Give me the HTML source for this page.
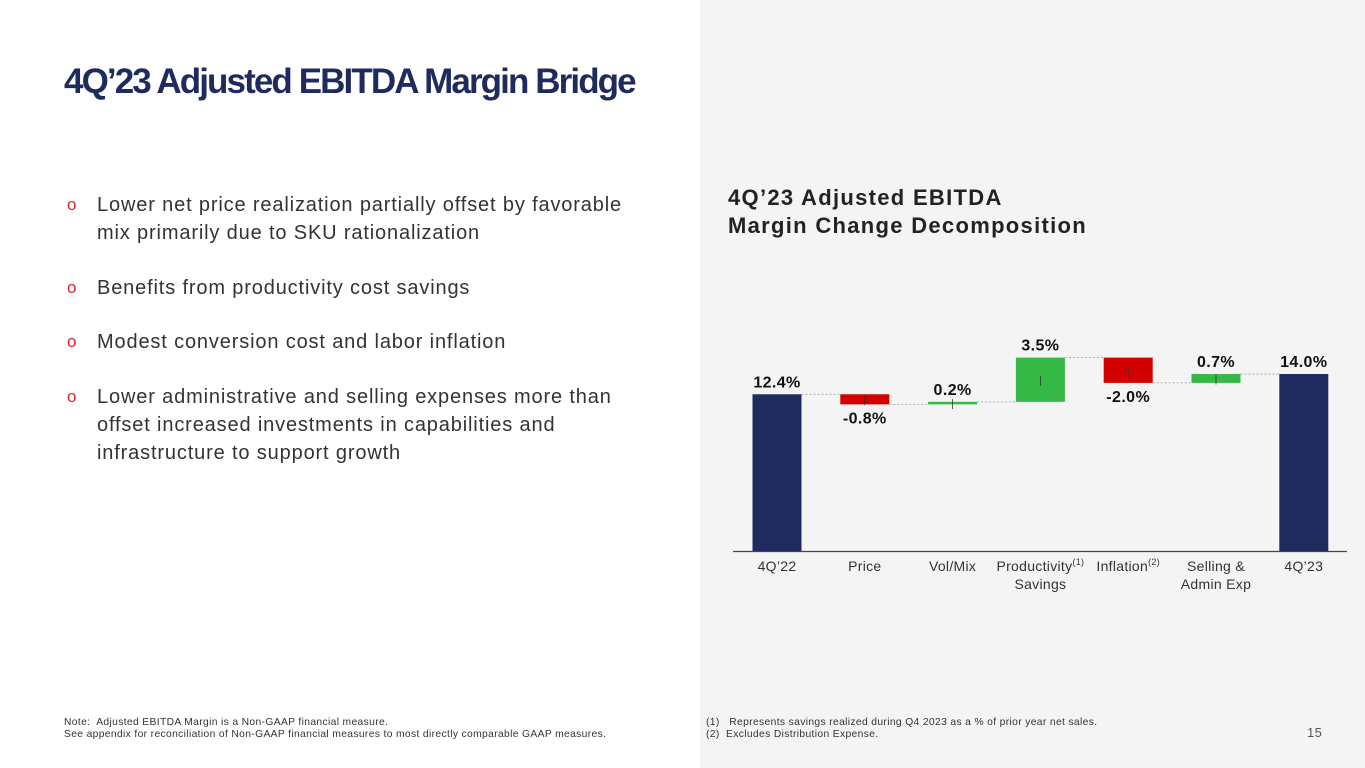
<!DOCTYPE html>
<html><head><meta charset="utf-8"><style>
body{margin:0;width:1365px;height:768px;position:relative;background:#fff;font-family:"Liberation Sans",sans-serif;overflow:hidden}
.panel{position:absolute;left:700px;top:0;width:665px;height:768px;background:#f4f4f4}
h1{position:absolute;left:64px;top:62px;margin:0;font-size:35px;font-weight:bold;color:#1f2b5e;letter-spacing:-1.9px}
.b{position:absolute;left:67px;font-size:20px;color:#333;line-height:28px;letter-spacing:0.85px}
.b span.o{position:absolute;left:0;color:#d0262f;font-size:17px}
.b div{margin-left:30px}
h2{position:absolute;left:728px;top:184px;margin:0;font-size:22px;font-weight:bold;color:#222;line-height:28px;letter-spacing:1.3px}
.note{position:absolute;font-size:10.3px;color:#333;line-height:12px;letter-spacing:0.35px}
</style></head><body>
<div class="panel"></div>
<h1>4Q’23 Adjusted EBITDA Margin Bridge</h1>
<div class="b" style="top:191px"><span class="o">o</span><div>Lower net price realization partially offset by favorable<br>mix primarily due to SKU rationalization</div></div>
<div class="b" style="top:274px"><span class="o">o</span><div>Benefits from productivity cost savings</div></div>
<div class="b" style="top:328px"><span class="o">o</span><div>Modest conversion cost and labor inflation</div></div>
<div class="b" style="top:383px"><span class="o">o</span><div>Lower administrative and selling expenses more than<br>offset increased investments in capabilities and<br>infrastructure to support growth</div></div>
<h2>4Q’23 Adjusted EBITDA<br>Margin Change Decomposition</h2>
<svg id="chart" style="position:absolute;left:0;top:0" width="1365" height="768"></svg>
<div class="note" style="left:64px;top:717px">Note:&nbsp; Adjusted EBITDA Margin is a Non-GAAP financial measure.<br>See appendix for reconciliation of Non-GAAP financial measures to most directly comparable GAAP measures.</div>
<div class="note" style="left:706px;top:717px">(1)&nbsp;&nbsp; Represents savings realized during Q4 2023 as a % of prior year net sales.<br>(2)&nbsp;&nbsp;Excludes Distribution Expense.</div>
<div class="note" style="left:1307px;top:727px;font-size:13px;color:#555">15</div>
<script>
const categories=["4Q’22","Price","Vol/Mix","Productivity|Savings","Inflation","Selling &|Admin Exp","4Q’23"];
const sups=["","","","(1)","(2)","",""];
const values=[12.4,-0.8,0.2,3.5,-2.0,0.7,14.0];
const types=["total","delta","delta","delta","delta","delta","total"];
const labels=["12.4%","-0.8%","0.2%","3.5%","-2.0%","0.7%","14.0%"];
const svg=document.getElementById('chart');const NS="http://www.w3.org/2000/svg";
const base=551,ppu=12.64,x0=777,step=87.8,bw=49;
const y=v=>base-v*ppu;const xc=i=>x0+i*step;
function mk(t,a){const e=document.createElementNS(NS,t);for(const k in a)e.setAttribute(k,a[k]);svg.appendChild(e);return e;}
let ax=mk('line',{x1:733,x2:1347,y1:base+0.5,y2:base+0.5,stroke:'#444','stroke-width':1.2});


let run=0;
values.forEach((v,i)=>{
 let a,b,col;
 if(types[i]==="total"){a=0;b=v;run=v;col="#1f2b5e";}
 else{a=run;b=run+v;run=b;col=v<0?"#d40000":"#35b846";}
 const top=y(Math.max(a,b)),bot=y(Math.min(a,b));
 const r=mk('rect',{x:xc(i)-bw/2,y:top,width:bw,height:Math.max(bot-top,1.5),fill:col});
 
 
 if(types[i]==="delta"){mk('line',{x1:xc(i),x2:xc(i),y1:(top+bot)/2-4,y2:(top+bot)/2+6,stroke:'#333','stroke-width':0.8});}
 if(i<values.length-1){const cy=y(run);mk('line',{x1:xc(i)+bw/2,x2:xc(i+1)-bw/2,y1:cy,y2:cy,stroke:'#999','stroke-width':0.8,'stroke-dasharray':'2,2'});}
 const neg=types[i]==="delta"&&v<0;
 const t=mk('text',{x:xc(i),y:neg?bot+19:top-7,'text-anchor':'middle','font-size':16,'font-weight':'bold',fill:'#111','letter-spacing':0.4});
 t.textContent=labels[i];
 
 
 const parts=categories[i].split('|');
 parts.forEach((p,j)=>{const c=mk('text',{x:xc(i),y:571+j*18,'text-anchor':'middle','font-size':14,fill:'#333','letter-spacing':0.3});c.textContent=p;
  if(j===0&&sups[i]){const s=document.createElementNS(NS,'tspan');s.setAttribute('font-size',9);s.setAttribute('dy',-6);s.textContent=sups[i];c.appendChild(s);}
  
  });
});
</script>
</body></html>
